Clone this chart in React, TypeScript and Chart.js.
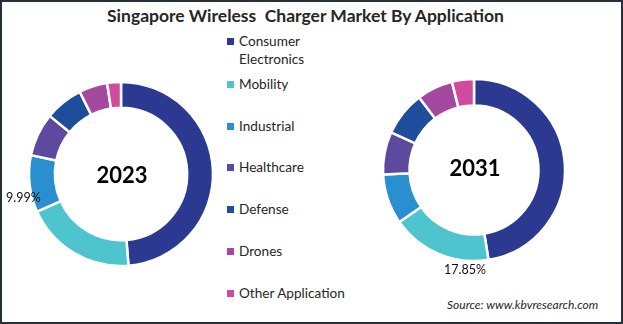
import React, { useEffect, useRef } from "react";
import { Chart, registerables } from "chart.js";

Chart.register(...registerables);

const categories = [
  "Consumer Electronics",
  "Mobility",
  "Industrial",
  "Healthcare",
  "Defense",
  "Drones",
  "Other Application",
];
const values2023 = [48.7, 19.6, 9.99, 7.6, 6.7, 5.0, 2.41];
const values2031 = [47.45, 17.85, 8.9, 7.6, 7.9, 6.4, 3.9];
const colors = ["#2B3990", "#4EC4CF", "#2A8FD0", "#5D4A9F", "#1E4E9B", "#A3499F", "#D04A9E"];
const title = "Singapore Wireless  Charger Market By Application";
const source = "Source: www.kbvresearch.com";

const FONT = "Lato, 'Open Sans', sans-serif";

function Donut({ values, left, top, radius }: { values: number[]; left: number; top: number; radius: number }) {
  const ref = useRef<HTMLCanvasElement>(null);
  useEffect(() => {
    if (!ref.current) return;
    const chart = new Chart(ref.current, {
      type: "doughnut",
      data: {
        labels: categories,
        datasets: [
          {
            data: values,
            backgroundColor: colors,
            borderColor: "#ffffff",
            borderWidth: 2.5,
            hoverOffset: 0,
          },
        ],
      },
      options: {
        animation: false,
        responsive: false,
        radius: radius,
        cutout: radius - 21,
        layout: { padding: 0 },
        plugins: { legend: { display: false }, tooltip: { enabled: false } },
        events: [],
      } as any,
    });
    return () => chart.destroy();
  }, []);
  return (
    <canvas
      ref={ref}
      width={200}
      height={200}
      style={{ position: "absolute", left, top, width: 200, height: 200 }}
    />
  );
}

const legendY = [40, 83, 125, 166, 208, 250, 292];

export default function App() {
  useEffect(() => {
    document.body.style.margin = "0";
  }, []);
  return (
    <div
      style={{
        position: "relative",
        width: 623,
        height: 324,
        boxSizing: "border-box",
        border: "2px solid #26303a",
        background: "#fff",
        fontFamily: FONT,
        overflow: "hidden",
      }}
    >
      <div
        style={{
          position: "absolute",
          left: -8,
          top: 3,
          width: 623,
          textAlign: "center",
          fontWeight: 700,
          fontSize: 17.5,
          color: "#262626",
          whiteSpace: "pre",
        }}
      >
        {title}
      </div>
      <Donut values={values2023} left={19} top={72} radius={92} />
      <Donut values={values2031} left={372} top={68} radius={91} />
      <div style={{ position: "absolute", left: 80, top: 159, width: 80, textAlign: "center", fontWeight: 700, fontSize: 22, color: "#000" }}>2023</div>
      <div style={{ position: "absolute", left: 433, top: 152, width: 80, textAlign: "center", fontWeight: 700, fontSize: 22, color: "#000" }}>2031</div>
      <div style={{ position: "absolute", left: 4, top: 188, fontSize: 12.5, color: "#111" }}>{values2023[2].toFixed(2)}%</div>
      <div style={{ position: "absolute", left: 442, top: 260, fontSize: 12.5, color: "#111" }}>{values2031[1].toFixed(2)}%</div>
      {categories.map((c, i) => {
        const lines = i === 0 ? ["Consumer", "Electronics"] : [c];
        return (
          <div key={c} style={{ position: "absolute", left: 225, top: legendY[i] - 10, fontSize: 13.6, color: "#262626", lineHeight: "18px" }}>
            <span style={{ position: "absolute", left: 0, top: 6, width: 7, height: 7, background: colors[i] }} />
            <div style={{ marginLeft: 12 }}>
              {lines.map((l) => (
                <div key={l}>{l}</div>
              ))}
            </div>
          </div>
        );
      })}
      <div style={{ position: "absolute", left: 445, top: 295, fontSize: 12, fontStyle: "italic", color: "#262626" }}>{source}</div>
    </div>
  );
}
